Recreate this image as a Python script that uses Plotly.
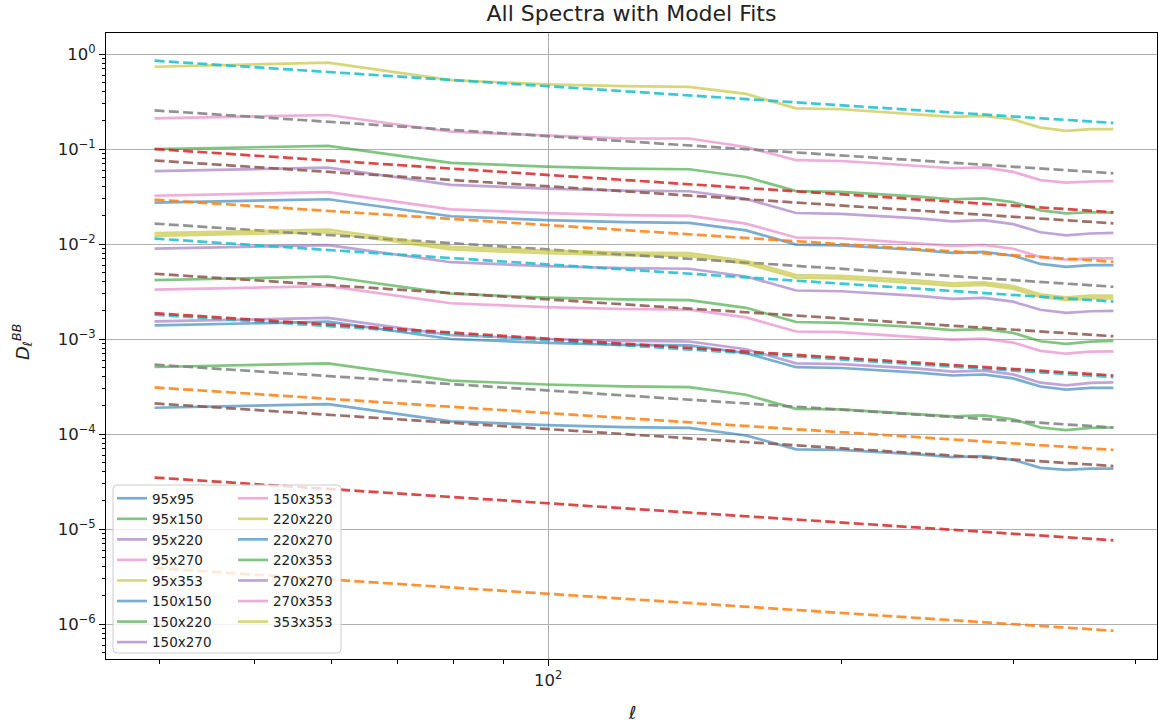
import math
import plotly.graph_objects as go

# ---------------- data ----------------
ell = [39.5, 59.5, 79.5, 99.5, 119.5, 139.5, 159.5, 179.5, 199.5, 219.5,
       239.5, 259.5, 279.5, 299.5, 319.5, 339.5, 359.5, 379.5]

spectra = ["95x95", "95x150", "95x220", "95x270", "95x353",
           "150x150", "150x220", "150x270", "150x353",
           "220x220", "220x270", "220x353",
           "270x270", "270x353", "353x353"]

d_95x95 = [1.89e-4, 2.06e-4, 1.36e-4, 1.24e-4, 1.18e-4, 1.16e-4, 9.64e-5, 6.90e-5, 6.80e-5,
           6.45e-5, 6.10e-5, 5.70e-5, 5.85e-5, 5.35e-5, 4.40e-5, 4.20e-5, 4.33e-5, 4.33e-5]
d_95x150 = [5.07e-4, 5.53e-4, 3.65e-4, 3.32e-4, 3.17e-4, 3.12e-4, 2.59e-4, 1.84e-4, 1.82e-4,
            1.72e-4, 1.63e-4, 1.53e-4, 1.57e-4, 1.43e-4, 1.17e-4, 1.10e-4, 1.16e-4, 1.17e-4]
d_95x220 = [1.53e-3, 1.67e-3, 1.10e-3, 1.00e-3, 9.56e-4, 9.41e-4, 7.80e-4, 5.55e-4, 5.45e-4,
            5.14e-4, 4.87e-4, 4.54e-4, 4.65e-4, 4.24e-4, 3.47e-4, 3.25e-4, 3.45e-4, 3.49e-4]
d_95x270 = [3.31e-3, 3.61e-3, 2.38e-3, 2.17e-3, 2.07e-3, 2.04e-3, 1.69e-3, 1.20e-3, 1.18e-3,
            1.11e-3, 1.05e-3, 9.83e-4, 1.01e-3, 9.17e-4, 7.51e-4, 7.00e-4, 7.35e-4, 7.42e-4]
d_95x353 = [1.22e-2, 1.33e-2, 8.78e-3, 7.99e-3, 7.63e-3, 7.50e-3, 6.22e-3, 4.43e-3, 4.34e-3,
            4.10e-3, 3.88e-3, 3.62e-3, 3.71e-3, 3.38e-3, 2.77e-3, 2.57e-3, 2.68e-3, 2.68e-3]
d_150x150 = [1.39e-3, 1.52e-3, 1.00e-3, 9.10e-4, 8.69e-4, 8.55e-4, 7.09e-4, 5.05e-4, 4.95e-4,
             4.67e-4, 4.42e-4, 4.13e-4, 4.23e-4, 3.85e-4, 3.16e-4, 2.93e-4, 3.06e-4, 3.06e-4]
d_150x220 = [4.17e-3, 4.55e-3, 3.00e-3, 2.73e-3, 2.61e-3, 2.56e-3, 2.13e-3, 1.51e-3, 1.48e-3,
             1.40e-3, 1.33e-3, 1.24e-3, 1.27e-3, 1.16e-3, 9.47e-4, 8.90e-4, 9.40e-4, 9.57e-4]
d_150x270 = [8.93e-3, 9.73e-3, 6.43e-3, 5.85e-3, 5.58e-3, 5.49e-3, 4.55e-3, 3.24e-3, 3.18e-3,
             3.00e-3, 2.84e-3, 2.65e-3, 2.71e-3, 2.47e-3, 2.03e-3, 1.88e-3, 1.96e-3, 1.98e-3]
d_150x353 = [3.22e-2, 3.51e-2, 2.32e-2, 2.11e-2, 2.01e-2, 1.98e-2, 1.64e-2, 1.17e-2, 1.15e-2,
             1.08e-2, 1.02e-2, 9.56e-3, 9.79e-3, 8.92e-3, 7.31e-3, 6.85e-3, 7.05e-3, 7.05e-3]
d_220x220 = [1.30e-2, 1.42e-2, 9.36e-3, 8.52e-3, 8.13e-3, 8.00e-3, 6.63e-3, 4.72e-3, 4.63e-3,
             4.37e-3, 4.13e-3, 3.86e-3, 3.95e-3, 3.60e-3, 2.95e-3, 2.74e-3, 2.86e-3, 2.86e-3]
d_220x270 = [2.72e-2, 2.96e-2, 1.96e-2, 1.78e-2, 1.70e-2, 1.67e-2, 1.39e-2, 9.87e-3, 9.68e-3,
             9.14e-3, 8.65e-3, 8.08e-3, 8.27e-3, 7.53e-3, 6.17e-3, 5.74e-3, 5.98e-3, 5.98e-3]
d_220x353 = [9.95e-2, 1.08e-1, 7.16e-2, 6.52e-2, 6.22e-2, 6.12e-2, 5.07e-2, 3.61e-2, 3.54e-2,
             3.34e-2, 3.16e-2, 2.96e-2, 3.02e-2, 2.76e-2, 2.26e-2, 2.10e-2, 2.16e-2, 2.14e-2]
d_270x270 = [5.84e-2, 6.37e-2, 4.20e-2, 3.83e-2, 3.65e-2, 3.59e-2, 2.98e-2, 2.12e-2, 2.08e-2,
             1.96e-2, 1.86e-2, 1.73e-2, 1.78e-2, 1.62e-2, 1.33e-2, 1.23e-2, 1.29e-2, 1.31e-2]
d_270x353 = [0.210, 0.228, 0.152, 0.139, 0.129, 0.129, 0.105, 0.0762, 0.0748,
             0.0704, 0.0668, 0.0627, 0.0640, 0.0575, 0.0470, 0.0442, 0.0455, 0.0458]
d_353x353 = [0.734, 0.810, 0.530, 0.480, 0.460, 0.450, 0.380, 0.268, 0.262,
             0.246, 0.233, 0.218, 0.223, 0.205, 0.168, 0.155, 0.162, 0.162]

data_series = [d_95x95, d_95x150, d_95x220, d_95x270, d_95x353,
               d_150x150, d_150x220, d_150x270, d_150x353,
               d_220x220, d_220x270, d_220x353,
               d_270x270, d_270x353, d_353x353]

# power-law model fits: value at first and last multipole
model_start = [3.88e-6, 3.48e-5, 2.10e-4, 5.37e-4, 1.80e-3,
               3.09e-4, 1.87e-3, 4.86e-3, 1.64e-2,
               1.14e-2, 2.93e-2, 1.00e-1,
               7.57e-2, 2.55e-1, 8.50e-1]
model_end = [8.50e-7, 7.60e-6, 4.60e-5, 1.17e-4, 3.97e-4,
             6.80e-5, 4.13e-4, 1.07e-3, 3.55e-3,
             2.48e-3, 6.50e-3, 2.16e-2,
             1.65e-2, 5.55e-2, 1.88e-1]

tab10 = ["#1f77b4", "#ff7f0e", "#2ca02c", "#d62728", "#9467bd",
         "#8c564b", "#e377c2", "#7f7f7f", "#bcbd22", "#17becf"]


def rgba(hexc, a):
    h = hexc.lstrip("#")
    return "rgba(%d,%d,%d,%.2f)" % (int(h[0:2], 16), int(h[2:4], 16), int(h[4:6], 16), a)


FONT = "DejaVu Sans"

fig = go.Figure()
for i, name in enumerate(spectra):
    c_data = tab10[(2 * i) % 10]
    c_model = tab10[(2 * i + 1) % 10]
    fig.add_trace(go.Scatter(
        x=ell, y=data_series[i], mode="lines", name=name,
        line=dict(color=rgba(c_data, 0.6), width=2.7),
        legend="legend" if i < 8 else "legend2",
        showlegend=True,
    ))
    fig.add_trace(go.Scatter(
        x=[ell[0], ell[-1]], y=[model_start[i], model_end[i]], mode="lines",
        name=name + " fit",
        line=dict(color=rgba(c_model, 0.85), width=2.7, dash="10px,4.3px"),
        showlegend=False,
    ))

# plot-area geometry (pixels)
W, H = 1159, 726
ML, MR, MT, MB = 106, 2, 33, 67
PW, PH = W - ML - MR, H - MT - MB


def px_x(px):
    return (px - ML) / PW


def px_y(py):
    return 1 - (py - MT) / PH


# axis ticks
y_major = [10.0 ** k for k in range(-6, 1)]
y_text = ["10<sup>0</sup>" if k == 0 else "10<sup>\u2212%d</sup>" % (-k) for k in range(-6, 1)]
y_minor = [m * 10.0 ** k for k in range(-7, 1) for m in range(2, 10)]
x_major = [100]
x_text = ["10<sup>2</sup>"]
x_minor = [40, 50, 60, 70, 80, 90, 200, 300, 400]

xr = [2 + (ML - 548.2) / 975.8, 2 + (ML + PW - 548.2) / 975.8]
yr = [-(659 - 54) / 95.0, (54 - 33) / 95.0]

axis_common = dict(
    type="log", showline=True, mirror=True, linecolor="black", linewidth=1,
    ticks="outside", ticklen=6, tickwidth=1, tickcolor="black",
    showgrid=True, gridcolor="#b0b0b0", gridwidth=1.2, zeroline=False,
    tickfont=dict(family=FONT, size=16.5, color="#222"),
)

fig.update_layout(
    width=W, height=H,
    margin=dict(l=ML, r=MR, t=MT, b=MB, autoexpand=False),
    paper_bgcolor="white", plot_bgcolor="white",
    title=dict(text="All Spectra with Model Fits", x=0.5, xref="paper", xanchor="center",
               y=1 - 13 / H, yref="container", yanchor="middle",
               font=dict(family=FONT, size=22, color="#222")),
    xaxis=dict(range=xr, tickmode="array", tickvals=x_major, ticktext=x_text,
               minor=dict(tickmode="array", tickvals=x_minor, ticks="outside", ticklen=3.5,
                          tickwidth=0.9, tickcolor="black", showgrid=False),
               **axis_common),
    yaxis=dict(range=yr, tickmode="array", tickvals=y_major, ticktext=y_text,
               minor=dict(tickmode="array", tickvals=y_minor, ticks="outside", ticklen=3.5,
                          tickwidth=0.9, tickcolor="black", showgrid=False),
               **axis_common),
    legend=dict(x=px_x(112), y=px_y(483), xanchor="left", yanchor="top",
                bgcolor="rgba(0,0,0,0)", borderwidth=0, tracegroupgap=0,
                font=dict(family=FONT, size=13.5, color="#222")),
    legend2=dict(x=px_x(233), y=px_y(483), xanchor="left", yanchor="top",
                 bgcolor="rgba(0,0,0,0)", borderwidth=0, tracegroupgap=0,
                 font=dict(family=FONT, size=13.5, color="#222")),
    showlegend=True,
)

# legend frame (rounded, semi-transparent white like matplotlib)
x0, x1 = px_x(113), px_x(341)
y0, y1 = px_y(653), px_y(485)
rx, ry = 4 / PW, 4 / PH
path = ("M {a},{y0} L {b},{y0} Q {x1},{y0} {x1},{c} L {x1},{d} Q {x1},{y1} {b},{y1} "
        "L {a},{y1} Q {x0},{y1} {x0},{d} L {x0},{c} Q {x0},{y0} {a},{y0} Z").format(
    a=x0 + rx, b=x1 - rx, c=y0 + ry, d=y1 - ry, x0=x0, x1=x1, y0=y0, y1=y1)
fig.add_shape(type="path", path=path, xref="paper", yref="paper", layer="above",
              fillcolor="rgba(255,255,255,0.8)", line=dict(color="#cccccc", width=1))

# axis labels
fig.add_annotation(text="<i>\u2113</i>", xref="paper", yref="paper", x=0.5,
                   y=px_y(713), xanchor="center", yanchor="middle", showarrow=False,
                   font=dict(family=FONT, size=18, color="#222"))
fig.add_annotation(text="<i>D</i><sub><i>\u2113</i></sub><sup><i>BB</i></sup>",
                   xref="paper", yref="paper", x=px_x(22), y=px_y(342),
                   xanchor="center", yanchor="middle", textangle=-90, showarrow=False,
                   font=dict(family=FONT, size=18, color="#222"))

fig.write_html("out.html")
